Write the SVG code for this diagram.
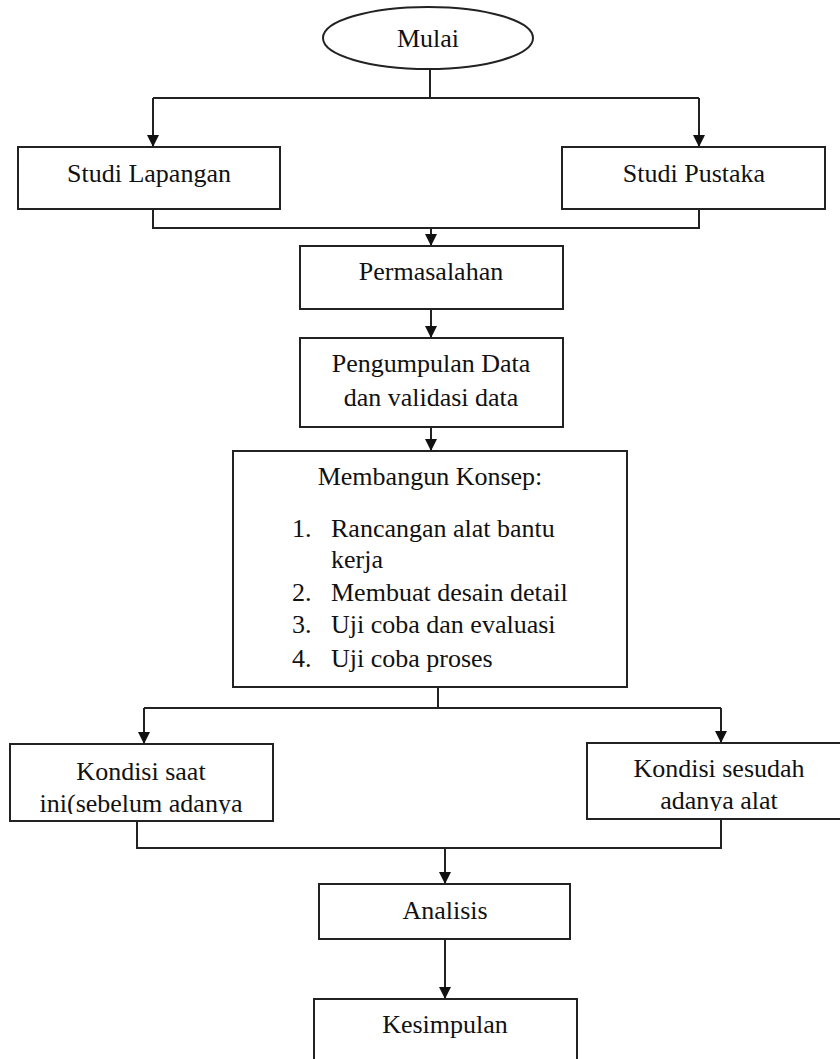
<svg xmlns="http://www.w3.org/2000/svg" width="840" height="1059" viewBox="0 0 840 1059">
<style>
.box{fill:#fff;stroke:#222;stroke-width:2}
.ln{fill:none;stroke:#222;stroke-width:2}
.arr{fill:none;stroke:#222;stroke-width:2;marker-end:url(#ah)}
.t{font-size:26px;fill:#111}
.c{text-anchor:middle}
</style>
<defs>
<marker id="ah" markerWidth="12" markerHeight="12" refX="12" refY="6" orient="auto" markerUnits="userSpaceOnUse">
<path d="M0,0 L12,6 L0,12 Z" fill="#111"/>
</marker>
<clipPath id="clipL"><rect x="10" y="744" width="263" height="70"/></clipPath>
<clipPath id="clipR"><rect x="587" y="743" width="253" height="68"/></clipPath>
</defs>
<rect width="840" height="1059" fill="#fff"/>
<g id="connectors">
<path class="ln" d="M430,69 V98"/>
<path class="ln" d="M153,98 H699"/>
<path class="arr" d="M153,98 V147"/>
<path class="arr" d="M699,98 V147"/>
<path class="ln" d="M153,209 V228 H699 V209"/>
<path class="arr" d="M431,228 V246"/>
<path class="arr" d="M431,309 V338"/>
<path class="arr" d="M431,427 V451"/>
<path class="ln" d="M438,687 V708"/>
<path class="ln" d="M144,708 H721"/>
<path class="arr" d="M144,708 V744"/>
<path class="arr" d="M721,708 V743"/>
<path class="ln" d="M137,821 V848 H721 V819"/>
<path class="arr" d="M445,848 V884"/>
<path class="arr" d="M445,939 V999"/>
</g>
<g font-family="Liberation Serif">
<g id="mulai">
<ellipse class="box" cx="428" cy="38" rx="105" ry="31"/>
<text class="t c" x="428" y="47">Mulai</text>
</g>
<g id="studi-lapangan">
<rect class="box" x="18" y="147" width="262" height="62"/>
<text class="t c" x="149" y="182">Studi Lapangan</text>
</g>
<g id="studi-pustaka">
<rect class="box" x="562" y="147" width="263" height="62"/>
<text class="t c" x="694" y="182">Studi Pustaka</text>
</g>
<g id="permasalahan">
<rect class="box" x="300" y="246" width="263" height="63"/>
<text class="t c" x="431" y="280">Permasalahan</text>
</g>
<g id="pengumpulan">
<rect class="box" x="300" y="338" width="263" height="89"/>
<text class="t c" x="431" y="372">Pengumpulan Data</text>
<text class="t c" x="431" y="406">dan validasi data</text>
</g>
<g id="membangun">
<rect class="box" x="233" y="451" width="394" height="236"/>
<text class="t c" x="430" y="485">Membangun Konsep:</text>
<text class="t" x="292" y="537">1.</text><text class="t" x="331" y="537">Rancangan alat bantu</text>
<text class="t" x="331" y="568">kerja</text>
<text class="t" x="292" y="601">2.</text><text class="t" x="331" y="601">Membuat desain detail</text>
<text class="t" x="292" y="633">3.</text><text class="t" x="331" y="633">Uji coba dan evaluasi</text>
<text class="t" x="292" y="667">4.</text><text class="t" x="331" y="667">Uji coba proses</text>
</g>
<g id="kondisi-saat">
<rect class="box" x="10" y="744" width="263" height="77"/>
<g clip-path="url(#clipL)">
<text class="t c" x="141" y="780">Kondisi saat</text>
<text class="t c" x="141" y="812">ini(sebelum adanya</text>
</g>
</g>
<g id="kondisi-sesudah">
<rect class="box" x="587" y="743" width="262" height="76"/>
<g clip-path="url(#clipR)">
<text class="t c" x="719" y="777">Kondisi sesudah</text>
<text class="t c" x="719" y="809">adanya alat</text>
</g>
</g>
<g id="analisis">
<rect class="box" x="319" y="884" width="251" height="55"/>
<text class="t c" x="445" y="919">Analisis</text>
</g>
<g id="kesimpulan">
<rect class="box" x="314" y="999" width="263" height="70"/>
<text class="t c" x="445" y="1033">Kesimpulan</text>
</g>
</g>
</svg>
